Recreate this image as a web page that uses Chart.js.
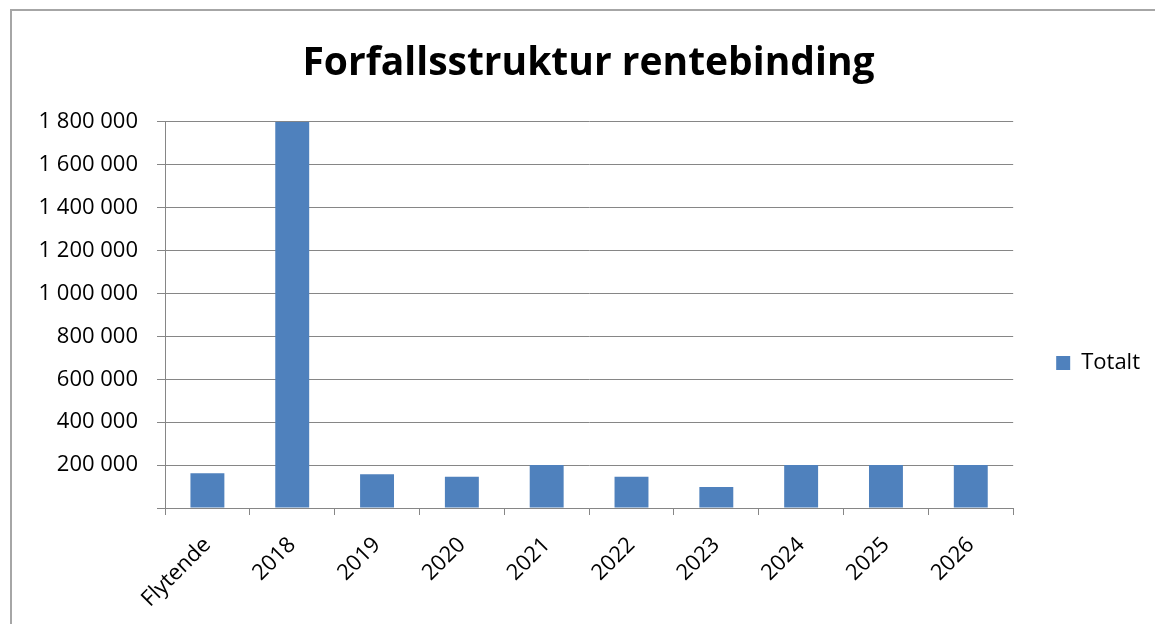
<!DOCTYPE html>
<html>
<head>
<meta charset="utf-8">
<script src="https://cdn.jsdelivr.net/npm/chart.js@4"></script>
<style>
    body { margin: 0; background: #fff; overflow: hidden; }
    #ramme { position: absolute; left: 10px; top: 9px; width: 1200px; height: 700px; border: 2px solid #a6a6a6; }
    #forfall { position: absolute; left: 0; top: 0; }
</style>
</head>
<body>
<div id="ramme"></div>
<canvas id="forfall" width="1155" height="624"></canvas>
<script>
const kategorier = ['Flytende', '2018', '2019', '2020', '2021', '2022', '2023', '2024', '2025', '2026'];
const totalt = [162000, 1800000, 157000, 146000, 200000, 146000, 98000, 200000, 200000, 200000];
const yMaks = 1800000;
const ySteg = 200000;

function tusen(v) {
    if (v === 0) return '';
    return v.toString().replace(/\B(?=(\d{3})+(?!\d))/g, ' ');
}

// flytter legenden og tittelen litt, slik som i originalen
const flyttBokser = {
    id: 'flyttBokser',
    afterLayout(chart) {
        const l = chart.legend;
        l.left += 33; l.right += 33;
        l.top += 51; l.bottom += 51;
        const t = chart.titleBlock;
        t.left += 30; t.right += 30;
    }
};

const gra = '#868686';
const font = 'Open Sans';

const ctx = document.getElementById('forfall');
new Chart(ctx, {
    type: 'bar',
    data: {
        labels: kategorier,
        datasets: [{
            label: 'Totalt',
            data: totalt,
            backgroundColor: '#4f81bd',
            borderWidth: 0,
            categoryPercentage: 1,
            barPercentage: 0.4
        }]
    },
    plugins: [flyttBokser],
    options: {
        responsive: false,
        animation: false,
        layout: { padding: { left: 0, right: 38, top: 0, bottom: 0 } },
        plugins: {
            title: {
                display: true,
                text: 'Forfallsstruktur rentebinding',
                color: '#000',
                font: { family: font, size: 39, weight: 'bold' },
                padding: { top: 40, bottom: 35 }
            },
            legend: {
                position: 'right',
                labels: {
                    color: '#000',
                    boxWidth: 14,
                    boxHeight: 14,
                    font: { family: font, size: 22 }
                }
            },
            tooltip: { enabled: false }
        },
        scales: {
            x: {
                grid: { drawOnChartArea: false, color: gra, tickLength: 7, offset: true },
                border: { color: gra },
                ticks: {
                    color: '#000',
                    font: { family: font, size: 22 },
                    minRotation: 45,
                    maxRotation: 45,
                    padding: 17
                },
                afterFit(s) { s.height = 116; }
            },
            y: {
                min: 0,
                max: yMaks,
                grid: { color: gra, tickLength: 8 },
                border: { color: gra },
                ticks: {
                    stepSize: ySteg,
                    color: '#000',
                    font: { family: font, size: 22 },
                    padding: 19,
                    callback: v => tusen(v)
                },
                afterFit(s) { s.width = 165; }
            }
        }
    }
});
</script>
</body>
</html>
